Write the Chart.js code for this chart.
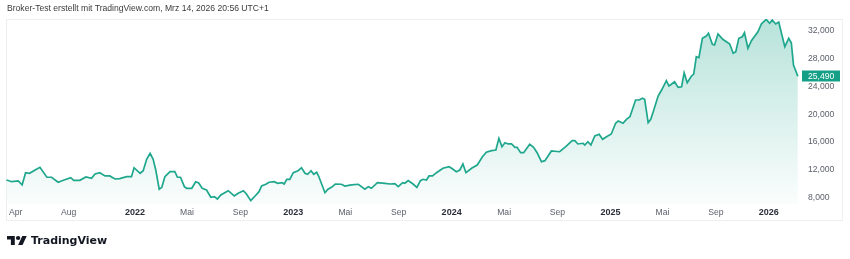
<!DOCTYPE html>
<html lang="de">
<head>
<meta charset="utf-8">
<title>Broker-Test</title>
<script src="https://cdn.jsdelivr.net/npm/chart.js@4.4.1/dist/chart.umd.min.js"></script>
<style>
  body { margin: 0; width: 850px; height: 259px; background: #fff; position: relative; overflow: hidden; font-family: "Liberation Sans", Arial, sans-serif; }
  #chart { position: absolute; left: 0; top: 0; }
  #header { position: absolute; left: 7px; top: 3px; font-size: 8.6px; line-height: 10px; color: #3a3a3a; white-space: nowrap; }
  #logo { position: absolute; left: 7px; top: 233px; height: 15px; display: flex; align-items: center; }
  #logo span { font-family: "DejaVu Sans", sans-serif; font-weight: bold; font-size: 11px; color: #131722; margin-left: 4px; }
</style>
</head>
<body>
<canvas id="chart" width="850" height="259"></canvas>
<div id="header">Broker-Test erstellt mit TradingView.com, Mrz 14, 2026 20:56 UTC+1</div>
<div id="logo">
  <svg width="20" height="9" viewBox="0 4 36 18" preserveAspectRatio="none"><path fill="#131722" d="M14 22H7V11H0V4h14v18zM28 22h-8l7.5-18h8L28 22z"/><circle fill="#131722" cx="20" cy="8" r="4"/></svg>
  <span>TradingView</span>
</div>
<script>
  // day index counted from 2021-01-01, weekly-ish vertices
  const days = [69, 81, 96, 105, 113, 122, 135, 146, 162, 173, 188, 200, 217, 224, 238, 252, 265, 273, 284, 296,
    307, 319, 330, 346, 357, 363, 377, 384, 392, 400, 407, 413, 421, 427, 434, 446, 457, 463, 470, 479,
    484, 496, 505, 512, 520, 530, 540, 548, 555, 563, 580, 594, 603, 615, 622, 632, 642, 651, 657, 668,
    674, 686, 694, 704, 709, 715, 722, 730, 741, 749, 757, 763, 771, 777, 784, 789, 803, 810, 818, 827,
    841, 849, 864, 880, 895, 903, 910, 924, 941, 953, 964, 972, 982, 987, 995, 1006, 1015, 1023, 1029, 1037,
    1043, 1051, 1060, 1075, 1089, 1095, 1106, 1114, 1121, 1128, 1141, 1154, 1166, 1175, 1187, 1197, 1204, 1211, 1218, 1225,
    1233, 1241, 1246, 1254, 1261, 1275, 1284, 1292, 1302, 1310, 1325, 1344, 1358, 1373, 1379, 1386, 1398, 1402, 1409, 1416,
    1425, 1435, 1443, 1452, 1463, 1473, 1479, 1490, 1498, 1506, 1519, 1527, 1535, 1540, 1548, 1554, 1561, 1571, 1579, 1590,
    1596, 1609, 1617, 1625, 1631, 1638, 1648, 1653, 1659, 1665, 1673, 1682, 1687, 1696, 1701, 1709, 1720, 1736, 1744, 1750,
    1757, 1765, 1770, 1778, 1786, 1801, 1809, 1820, 1828, 1834, 1842, 1849, 1863, 1872, 1878, 1883, 1893];

  const values = [10500, 10250, 10350, 9780, 11550, 11470, 11940, 12330, 10890, 10890, 10170, 10450, 10830, 10450, 10450, 10930, 10740, 11360, 11550, 11080,
    11080, 10640, 10690, 10970, 10970, 12270, 11470, 11840, 13490, 14350, 13490, 11940, 9160, 9440, 10970, 11700, 11700, 10890, 10890, 9530,
    9300, 9300, 10250, 10070, 9300, 9050, 8000, 8090, 7750, 8330, 8950, 8190, 8580, 8950, 8480, 7510, 8190, 8810, 9630, 9920,
    10170, 10250, 10020, 10110, 9920, 10600, 10600, 11550, 11840, 12270, 11470, 11320, 11840, 11320, 11610, 10970, 8660, 9160, 9440, 9920,
    9880, 9630, 9780, 9880, 9160, 9530, 9300, 10110, 10020, 9920, 9970, 9530, 10110, 10020, 10400, 9920, 9440, 10400, 10600, 10500,
    11080, 11080, 11550, 12190, 12420, 12190, 11700, 11940, 12810, 11550, 12190, 12660, 13860, 14500, 14730, 14830, 16520, 15310, 15880, 15700,
    15700, 15220, 15220, 14440, 14440, 15650, 15220, 14440, 13140, 13290, 14690, 14580, 15310, 16170, 16170, 15700, 15800, 15550, 16030, 15550,
    16850, 17100, 16380, 16750, 17140, 18690, 19020, 18690, 19260, 19640, 22050, 22050, 22300, 22150, 18770, 19260, 20610, 22630, 23490, 24840,
    24070, 24690, 23880, 23970, 25990, 24550, 25520, 25800, 28300, 28160, 30960, 31290, 31680, 30090, 29990, 31580, 30820, 30140, 28790, 29030,
    30960, 31190, 31770, 29520, 30610, 31910, 33030, 33700, 33130, 33600, 33030, 33310, 29750, 30960, 30320, 27100, 25490];

  const tickDays = [90, 212, 365, 485, 608, 730, 850, 973, 1095, 1216, 1339, 1461, 1581, 1704, 1826];
  const tickLabels = ["Apr", "Aug", "2022", "Mai", "Sep", "2023", "Mai", "Sep", "2024", "Mai", "Sep", "2025", "Mai", "Sep", "2026"];
  const priceTicks = [8000, 12000, 16000, 20000, 24000, 28000, 32000];
  const lastPrice = 25490;

  const lineColor = "#1fa78d";
  const points = days.map((d, i) => ({ x: d, y: values[i] }));

  const frame = {
    id: "frame",
    beforeDraw(chart) {
      const c = chart.ctx;
      c.save();
      c.strokeStyle = "#eeeff1";
      c.lineWidth = 1;
      c.strokeRect(6.5, 19.5, 836, 201);
      c.restore();
    },
    afterDraw(chart) {
      const c = chart.ctx;
      const y = chart.scales.y.getPixelForValue(lastPrice);
      c.save();
      c.fillStyle = "#159f86";
      c.fillRect(802, Math.round(y) - 5.5, 38, 11);
      c.fillStyle = "#fff";
      c.font = "8.6px 'Liberation Sans', Arial, sans-serif";
      c.textBaseline = "middle";
      c.textAlign = "left";
      c.fillText(lastPrice.toLocaleString("en-US"), 808, Math.round(y) + 0.5);
      c.restore();
    }
  };

  new Chart(document.getElementById("chart"), {
    type: "line",
    data: {
      datasets: [{
        data: points,
        borderColor: lineColor,
        borderWidth: 1.7,
        pointRadius: 0,
        tension: 0,
        fill: "start",
        backgroundColor: function (context) {
          const area = context.chart.chartArea;
          if (!area) return "rgba(31,167,141,0.2)";
          const g = context.chart.ctx.createLinearGradient(0, area.top, 0, area.bottom);
          g.addColorStop(0, "rgba(31,167,141,0.32)");
          g.addColorStop(1, "rgba(31,167,141,0.02)");
          return g;
        }
      }]
    },
    options: {
      responsive: false,
      animation: false,
      devicePixelRatio: 1,
      layout: { padding: { left: 6, right: 7, top: 19, bottom: 39 } },
      plugins: { legend: { display: false }, tooltip: { enabled: false } },
      scales: {
        x: {
          type: "linear",
          min: 67.8,
          max: 1898,
          grid: { display: false, drawTicks: false },
          border: { display: false },
          afterBuildTicks: (scale) => { scale.ticks = tickDays.map(v => ({ value: v })); },
          afterFit: (scale) => { scale.height = 16; },
          ticks: {
            autoSkip: false,
            maxRotation: 0,
            padding: 3,
            callback: (v) => tickLabels[tickDays.indexOf(v)],
            color: (ctx) => /^\d{4}$/.test(tickLabels[ctx.index]) ? "#2a2e39" : "#5d606b",
            font: (ctx) => /^\d{4}$/.test(tickLabels[ctx.index])
              ? { family: "'Liberation Sans', Arial, sans-serif", size: 9, weight: "bold" }
              : { family: "'Liberation Sans', Arial, sans-serif", size: 8.6 }
          }
        },
        y: {
          position: "right",
          min: 7030,
          max: 33750,
          grid: { display: false, drawTicks: false },
          border: { display: false },
          afterBuildTicks: (scale) => { scale.ticks = priceTicks.map(v => ({ value: v })); },
          afterFit: (scale) => { scale.width = 43; },
          ticks: {
            padding: 8,
            color: "#5d606b",
            font: { family: "'Liberation Sans', Arial, sans-serif", size: 8.6 },
            callback: (v) => v.toLocaleString("en-US")
          }
        }
      }
    },
    plugins: [frame]
  });
</script>
</body>
</html>
